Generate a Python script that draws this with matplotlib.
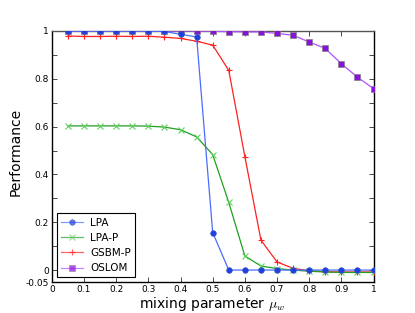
import numpy as np
from matplotlib import pyplot as plt

plt.rcParams['mathtext.fontset'] = 'cm'

mu = [0.05, 0.1, 0.15, 0.2, 0.25, 0.3, 0.35, 0.4, 0.45, 0.5,
      0.55, 0.6, 0.65, 0.7, 0.75, 0.8, 0.85, 0.9, 0.95, 1.0]

lpa = [1.0, 1.0, 1.0, 1.0, 1.0, 1.0, 0.998, 0.986, 0.975, 0.157,
       0.0, 0.0, 0.0, 0.0, 0.0, 0.0, 0.0, 0.0, 0.0, 0.0]
lpa_p = [0.603, 0.603, 0.603, 0.603, 0.603, 0.602, 0.598, 0.587, 0.557, 0.483,
         0.283, 0.059, 0.017, 0.006, 0.0, -0.005, -0.008, -0.01, -0.01, -0.01]
gsbm_p = [0.979, 0.977, 0.977, 0.978, 0.977, 0.978, 0.974, 0.969, 0.957, 0.941,
          0.835, 0.475, 0.125, 0.034, 0.007, -0.003, -0.007, -0.008, -0.008, -0.008]
oslom = [1.0, 1.0, 1.0, 1.0, 1.0, 1.0, 1.0, 1.0, 1.0, 0.999,
         0.997, 0.996, 0.996, 0.99, 0.982, 0.954, 0.927, 0.863, 0.807, 0.759]

xticks = np.round(np.arange(0, 1.01, 0.1), 1)
xlabels = ['0', '0.1', '0.2', '0.3', '0.4', '0.5', '0.6', '0.7', '0.8', '0.9', '1']
yticks = [-0.05, 0, 0.1, 0.2, 0.3, 0.4, 0.5, 0.6, 0.7, 0.8, 0.9, 1.0]
ylabels = ['-0.05', '0', '', '0.2', '', '0.4', '', '0.6', '', '0.8', '', '1']

fig = plt.figure(figsize=(4.15, 3.13), dpi=100)
ax = fig.add_axes([0.125, 0.099, 0.775, 0.802])

ax.plot(mu, gsbm_p, '-', color='#ff2020', marker='+', ms=5, mew=0.8, lw=0.9, label='GSBM-P', zorder=3)
ax.plot(mu, lpa_p, '-', color='#20a020', marker='x', ms=4, mew=0.8, mec='#60d060', lw=0.9, label='LPA-P', zorder=3)
ax.plot(mu, oslom, '-', color='#b050ff', marker='s', ms=4, mfc='#8a10e0', mec='#808080', mew=0.5, lw=0.9, label='OSLOM', zorder=4)
ax.plot(mu, lpa, '-', color='#4a6cff', marker='o', ms=4, mfc='#1f40e0', mec='#3050c0', mew=0.5, lw=0.9, label='LPA', zorder=5)

ax.set_xlim(0, 1)
ax.set_ylim(-0.05, 1)
ax.set_xticks(xticks)
ax.set_xticklabels(xlabels)
ax.set_yticks(yticks)
ax.set_yticklabels(ylabels)
ax.tick_params(direction='in', top=True, right=True, labelsize=6.5, length=3.5, width=0.5, pad=2)
for s in ax.spines.values():
    s.set_linewidth(1)
ax.spines['top'].set_color('#555555')

ax.set_xlabel(r'mixing parameter $\mu_w$', fontsize=10)
ax.set_ylabel('Performance', fontsize=10)
ax.xaxis.set_label_coords(0.497, -0.052)
ax.yaxis.set_label_coords(-0.092, 0.52)

h, l = ax.get_legend_handles_labels()
order = [3, 1, 0, 2]
leg = ax.legend([h[i] for i in order], [l[i] for i in order], loc='lower left',
                fontsize=7.5, fancybox=False, framealpha=1, edgecolor='black',
                borderaxespad=0.45, handlelength=2.1, labelspacing=0.5,
                borderpad=0.4, handletextpad=0.7)
leg.get_frame().set_linewidth(0.8)
for lh in leg.get_lines():
    lh.set_alpha(0.7)

fig.savefig('out.png', dpi=100)
